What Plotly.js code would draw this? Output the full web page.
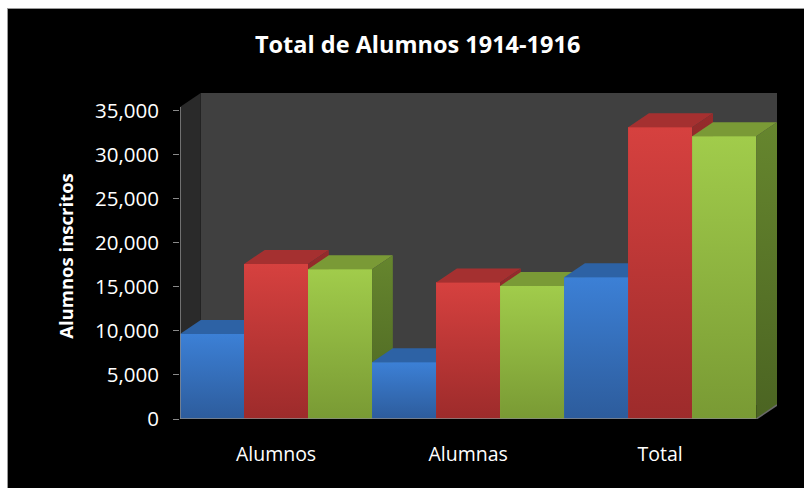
<!DOCTYPE html>
<html>
<head>
<meta charset="utf-8">
<script src="https://cdn.plot.ly/plotly-3.0.1.min.js"></script>
<style>
  html, body { margin: 0; padding: 0; background: #ffffff; width: 804px; height: 488px; overflow: hidden; }
  #frame { position: absolute; left: 7px; top: 8px; border-left: 1px solid #9a9a9a; border-top: 1px solid #9a9a9a; }
  #chart { width: 797px; height: 480px; }
</style>
</head>
<body>
<div id="frame"><div id="chart"></div></div>
<script>
// ---- data ----
const categories = ['Alumnos', 'Alumnas', 'Total'];
const seriesNames = ['1914', '1915', '1916'];
const values1914 = [9650, 6450, 16100];
const values1915 = [17600, 15500, 33100];
const values1916 = [17000, 15100, 32100];
const yTickVals = [0, 5000, 10000, 15000, 20000, 25000, 30000, 35000];

// ---- styling ----
const frontColors = ['#3671ba', '#bd3737', '#8fb541'];
const frontTop = ['#3c80d6', '#d6413f', '#a1cc4b'];
const frontBottom = ['#2d5c9c', '#9d2b2b', '#799a34'];
const topColors = ['#2d62a5', '#a53030', '#7a9a36'];
const sideTop = ['#2c5a98', '#952b2b', '#66862e'];
const sideBottom = ['#244a7e', '#7a2222', '#4b6422'];
const DX = 0.108;   // depth offset in x units
const DY = 1590;    // depth offset in y units
const Y_MAX = 35400;

const allSeries = [values1914, values1915, values1916];
const xPos = categories.map((_, i) => i);

// bar front faces
const traces = allSeries.map((vals, s) => ({
  type: 'bar',
  name: seriesNames[s],
  x: xPos,
  y: vals,
  marker: { color: frontColors[s], line: { width: 0 } },
  hoverinfo: 'y'
}));

// ordered list of bars left to right
const bars = [];
categories.forEach((_, c) => {
  allSeries.forEach((vals, s) => {
    const xl = c - 0.5 + s / 3;
    bars.push({ s: s, xl: xl, xr: xl + 1 / 3, v: vals[c] });
  });
});

function clip(poly, axis, val, keepGreater) {
  const out = [];
  const n = poly.length;
  const inside = p => keepGreater ? p[axis] >= val - 1e-9 : p[axis] <= val + 1e-9;
  const inter = (p, q) => {
    const t = (val - p[axis]) / (q[axis] - p[axis]);
    return [p[0] + t * (q[0] - p[0]), p[1] + t * (q[1] - p[1])];
  };
  for (let i = 0; i < n; i++) {
    const cur = poly[i], prev = poly[(i + n - 1) % n];
    if (inside(cur)) {
      if (!inside(prev)) out.push(inter(prev, cur));
      out.push(cur);
    } else if (inside(prev)) {
      out.push(inter(prev, cur));
    }
  }
  return out;
}
function pxArea(poly) {
  let a = 0;
  for (let i = 0; i < poly.length; i++) {
    const p = poly[i], q = poly[(i + 1) % poly.length];
    a += (p[0] * 192) * (q[1] * 0.0088) - (q[0] * 192) * (p[1] * 0.0088);
  }
  return Math.abs(a / 2);
}
function visiblePieces(poly, next) {
  if (!next) return [poly];
  const pieces = [];
  const a = clip(poly, 0, next.xl, false);
  const b = clip(clip(poly, 0, next.xl, true), 1, next.v, true);
  [a, b].forEach(p => { if (p.length >= 3 && pxArea(p) > 0.3) pieces.push(p); });
  return pieces;
}
function faceTrace(pieces, color, grad) {
  const x = [], y = [];
  pieces.forEach((p, i) => {
    if (i > 0) { x.push(null); y.push(null); }
    p.forEach(pt => { x.push(pt[0]); y.push(pt[1]); });
    x.push(p[0][0]); y.push(p[0][1]);
  });
  const t = {
    type: 'scatter', mode: 'lines', x: x, y: y, fill: 'toself',
    fillcolor: color, line: { width: 0, color: 'rgba(0,0,0,0)' },
    hoverinfo: 'skip', showlegend: false
  };
  if (grad) t.fillgradient = grad;
  return t;
}

bars.forEach((b, i) => {
  const next = bars[i + 1];
  // shaded front face (vertical gradient) over the bar
  traces.push({
    type: 'scatter', mode: 'lines',
    x: [b.xl, b.xr, b.xr, b.xl, b.xl], y: [0, 0, b.v, b.v, 0],
    fill: 'toself', line: { width: 0, color: 'rgba(0,0,0,0)' },
    fillgradient: { type: 'vertical', start: 0, stop: b.v,
      colorscale: [[0, frontBottom[b.s]], [1, frontTop[b.s]]] },
    hoverinfo: 'skip', showlegend: false
  });
  const top = [[b.xl, b.v], [b.xr, b.v], [b.xr + DX, b.v + DY], [b.xl + DX, b.v + DY]];
  const side = [[b.xr, 0], [b.xr + DX, DY], [b.xr + DX, b.v + DY], [b.xr, b.v]];
  const tp = visiblePieces(top, next);
  if (tp.length) traces.push(faceTrace(tp, topColors[b.s]));
  const sp = visiblePieces(side, next);
  if (sp.length) traces.push(faceTrace(sp, sideTop[b.s], { type: 'vertical', start: 0, stop: b.v + DY,
    colorscale: [[0, sideBottom[b.s]], [1, sideTop[b.s]]] }));
});

const xMin = -0.5, xMax = categories.length - 0.5;
const shapes = [
  { type: 'rect', xref: 'x', yref: 'y', layer: 'below', x0: xMin + DX, x1: xMax + DX, y0: DY, y1: Y_MAX + DY,
    fillcolor: '#404040', line: { width: 0 } },
  { type: 'path', xref: 'x', yref: 'y', layer: 'below',
    path: `M ${xMin},0 L ${xMin},${Y_MAX} L ${xMin + DX},${Y_MAX + DY} L ${xMin + DX},${DY} Z`,
    fillcolor: '#2a2a2a', line: { width: 0 } },
  { type: 'line', xref: 'x', yref: 'y', layer: 'above', x0: xMin, x1: xMin, y0: 0, y1: Y_MAX,
    line: { color: '#8a8a8a', width: 1.5 } },
  { type: 'line', xref: 'x', yref: 'y', layer: 'above', x0: xMin, x1: xMax, y0: 0, y1: 0,
    line: { color: '#8a8a8a', width: 1.5 } },
  { type: 'line', xref: 'x', yref: 'y', layer: 'above', x0: xMax, x1: xMax + DX, y0: 0, y1: DY,
    line: { color: '#6a6a6a', width: 1.5 } }
];

const layout = {
  width: 797, height: 480,
  paper_bgcolor: '#000000', plot_bgcolor: 'rgba(0,0,0,0)',
  margin: { l: 172, r: 28, t: 84, b: 70 },
  showlegend: false,
  barmode: 'group', bargap: 0, bargroupgap: 0,
  font: { family: 'Open Sans, sans-serif', color: '#ffffff' },
  title: {
    text: 'Total de Alumnos 1914-1916',
    xref: 'container', x: 0.514, xanchor: 'center',
    yref: 'container', y: 1 - 36 / 480, yanchor: 'middle',
    font: { family: 'Open Sans, sans-serif', size: 23.5, color: '#ffffff', weight: 'bold' }
  },
  xaxis: {
    range: [xMin, xMax + DX], tickvals: xPos, ticktext: categories,
    showgrid: false, zeroline: false, showline: false, ticks: '',
    ticklabelstandoff: 21,
    tickfont: { family: 'Open Sans, sans-serif', size: 19.5, color: '#ffffff' },
    fixedrange: true
  },
  yaxis: {
    range: [0, 37000], tickvals: yTickVals, tickformat: ',d',
    showgrid: false, zeroline: false, showline: false,
    ticks: 'outside', ticklen: 6, tickwidth: 1, tickcolor: '#8a8a8a',
    ticklabelstandoff: 10,
    tickfont: { family: 'Open Sans, sans-serif', size: 20.5, color: '#ffffff' },
    title: { text: 'Alumnos inscritos', standoff: 16,
      font: { family: 'Open Sans, sans-serif', size: 18.5, color: '#ffffff', weight: 'bold' } },
    fixedrange: true
  },
  shapes: shapes
};

Plotly.newPlot('chart', traces, layout, { displayModeBar: false, staticPlot: true });
</script>
</body>
</html>
